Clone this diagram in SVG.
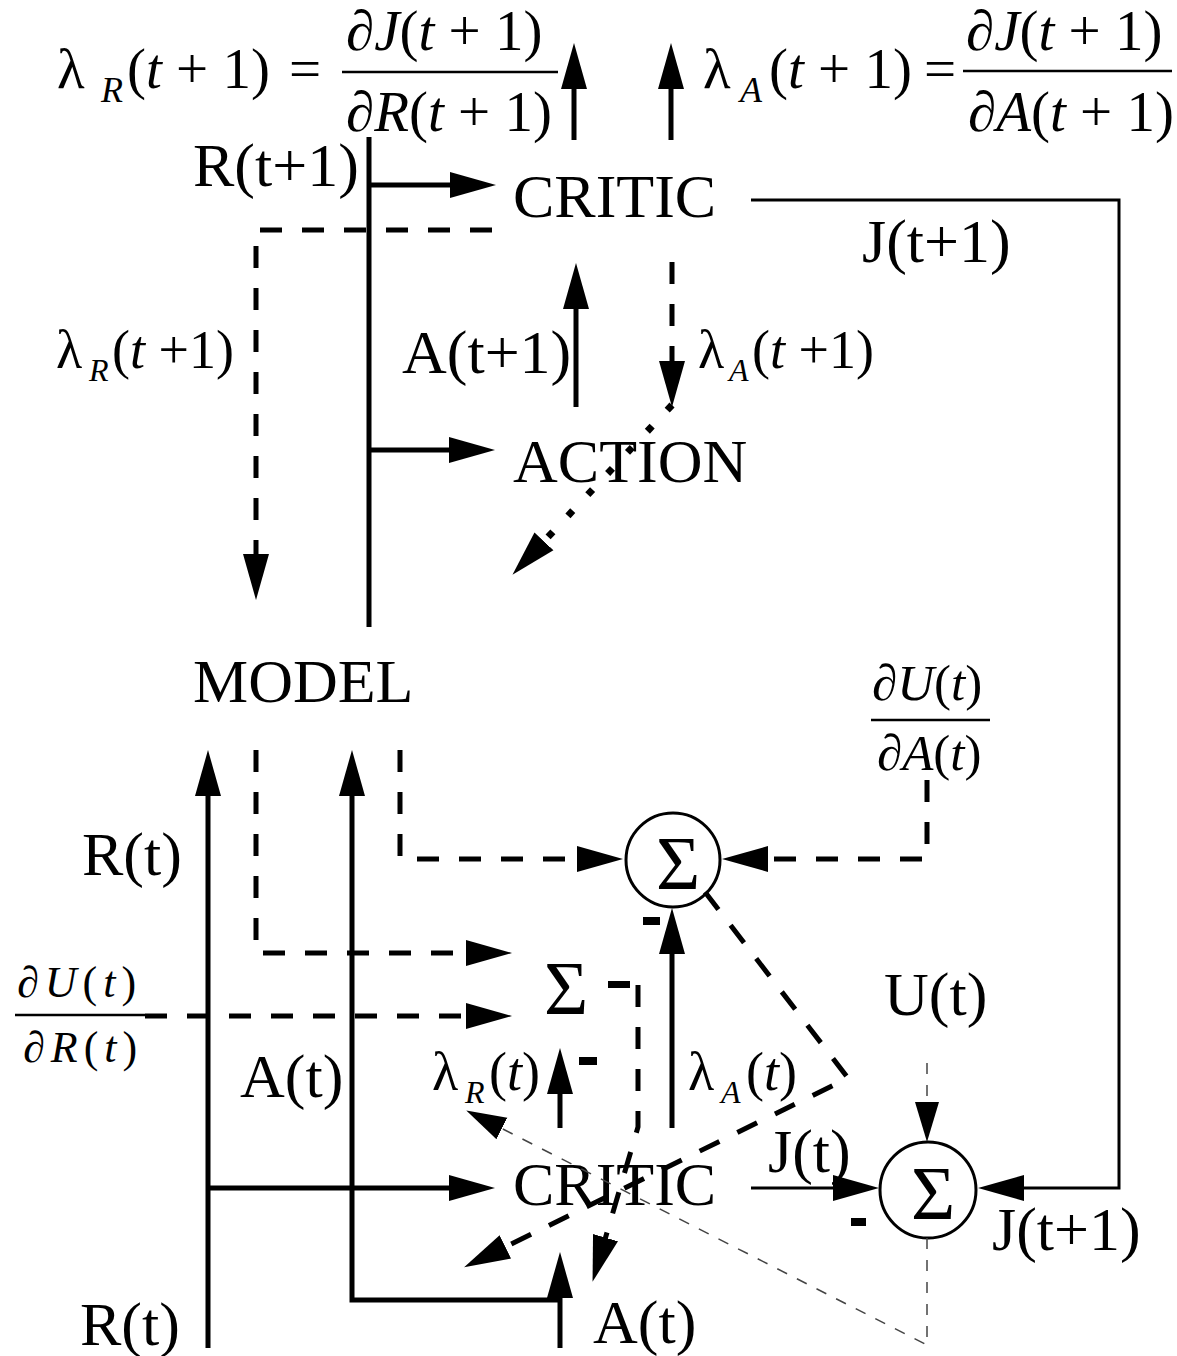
<svg xmlns="http://www.w3.org/2000/svg" width="1177" height="1356" viewBox="0 0 1177 1356">
<style>
text { font-family: "Liberation Serif", "Times New Roman", serif; fill: #000; }
.lbl { font-size: 62px; }
.m { font-size: 57px; }
.ms { font-size: 54px; }
.mf { font-size: 51px; }
.i { font-style: italic; }
.sub { font-size: 36px; font-style: italic; }
.subs { font-size: 32px; font-style: italic; }
.sig { font-size: 76px; text-anchor: middle; }
.solid { fill: none; stroke: #000; stroke-width: 5; }
.dash { fill: none; stroke: #000; stroke-width: 5; stroke-dasharray: 22 20; }
.dot { fill: none; stroke: #000; stroke-width: 7; stroke-dasharray: 7 22; }
.thin { fill: none; stroke: #444; stroke-width: 1.5; stroke-dasharray: 11 11; }
.fb { fill: none; stroke: #000; stroke-width: 3; }
.bar { stroke: #000; stroke-width: 2.5; }
.sum { fill: none; stroke: #000; stroke-width: 3; }
.minus { fill: #000; }
</style>
<defs>
<marker id="ah" markerUnits="userSpaceOnUse" markerWidth="48" markerHeight="28" refX="16" refY="14" orient="auto">
<path d="M0,1 L46,14 L0,27 z" fill="#000"/>
</marker>
<marker id="ahs" markerUnits="userSpaceOnUse" markerWidth="42" markerHeight="28" refX="10" refY="14" orient="auto">
<path d="M0,2 L40,14 L0,26 z" fill="#000"/>
</marker>
</defs>
<rect width="1177" height="1356" fill="#fff"/>

<g id="critic-top"><text class="lbl" x="513" y="217">CRITIC</text></g>
<g id="action"><text class="lbl" x="513" y="482">ACTION</text></g>
<g id="model"><text class="lbl" x="193" y="702">MODEL</text></g>
<g id="critic-bottom"><text class="lbl" x="513" y="1205">CRITIC</text></g>
<g id="sum-1"><circle class="sum" cx="673" cy="860" r="47"/><text class="sig" x="678" y="889">Σ</text></g>
<g id="sum-2"><text class="sig" x="566" y="1014">Σ</text></g>
<g id="sum-3"><circle class="sum" cx="928" cy="1190" r="48"/><text class="sig" x="933" y="1219">Σ</text></g>

<g id="labels">
<text class="m"><tspan x="57" y="88">λ</tspan><tspan class="sub" x="101" y="102">R</tspan><tspan x="127" y="88">(<tspan class="i">t</tspan> + 1)</tspan><tspan x="289" y="88">=</tspan></text>
<text class="m" x="346" y="50">∂<tspan class="i">J</tspan>(<tspan class="i">t</tspan> + 1)</text>
<line class="bar" x1="342" y1="72" x2="558" y2="72"/>
<text class="m" x="346" y="131">∂<tspan class="i">R</tspan>(<tspan class="i">t</tspan> + 1)</text>

<text class="m"><tspan x="703" y="88">λ</tspan><tspan class="sub" x="740" y="102">A</tspan><tspan x="769" y="88">(<tspan class="i">t</tspan> + 1)</tspan><tspan x="924" y="88">=</tspan></text>
<text class="m" x="966" y="50">∂<tspan class="i">J</tspan>(<tspan class="i">t</tspan> + 1)</text>
<line class="bar" x1="963" y1="71" x2="1172" y2="71"/>
<text class="m" x="968" y="131">∂<tspan class="i">A</tspan>(<tspan class="i">t</tspan> + 1)</text>

<text class="lbl" x="193" y="186">R(t+1)</text>
<text class="lbl" x="862" y="262">J(t+1)</text>
<text class="lbl" x="402" y="373">A(t+1)</text>

<text class="ms"><tspan x="56" y="368">λ</tspan><tspan class="subs" x="89" y="381">R</tspan><tspan x="112" y="368">(<tspan class="i">t</tspan> +1)</tspan></text>
<text class="ms"><tspan x="698" y="368">λ</tspan><tspan class="subs" x="729" y="381">A</tspan><tspan x="752" y="368">(<tspan class="i">t</tspan> +1)</tspan></text>

<text class="mf" x="872" y="700">∂<tspan class="i">U</tspan>(<tspan class="i">t</tspan>)</text>
<line class="bar" x1="871" y1="720" x2="990" y2="720"/>
<text class="mf" x="877" y="770">∂<tspan class="i">A</tspan>(<tspan class="i">t</tspan>)</text>

<text class="lbl" x="82" y="875">R(t)</text>

<text font-size="44" letter-spacing="6" x="17" y="997">∂<tspan class="i">U</tspan>(<tspan class="i">t</tspan>)</text>
<line class="bar" x1="15" y1="1015" x2="145" y2="1015"/>
<text font-size="44" letter-spacing="6" x="23" y="1062">∂<tspan class="i">R</tspan>(<tspan class="i">t</tspan>)</text>

<text class="lbl" x="240" y="1097">A(t)</text>
<text class="ms"><tspan x="432" y="1090">λ</tspan><tspan class="subs" x="465" y="1103">R</tspan><tspan x="489" y="1090">(<tspan class="i">t</tspan>)</tspan></text>
<text class="ms"><tspan x="688" y="1090">λ</tspan><tspan class="subs" x="721" y="1103">A</tspan><tspan x="746" y="1090">(<tspan class="i">t</tspan>)</tspan></text>
<text class="lbl" x="884" y="1015">U(t)</text>
<text class="lbl" x="768" y="1172">J(t)</text>
<text class="lbl" x="992" y="1250">J(t+1)</text>
<text class="lbl" x="80" y="1345">R(t)</text>
<text class="lbl" x="593" y="1343">A(t)</text>

<rect class="minus" x="643" y="917" width="17" height="8"/>
<rect class="minus" x="608" y="981" width="22" height="7"/>
<rect class="minus" x="579" y="1057" width="18" height="8"/>
<rect class="minus" x="851" y="1218" width="15" height="8"/>
</g>

<g id="connectors">
<path class="solid" d="M574,140 V73" marker-end="url(#ah)"/>
<path class="solid" d="M671,140 V73" marker-end="url(#ah)"/>
<path class="solid" d="M369,137 V627"/>
<path class="solid" d="M369,185 H466" marker-end="url(#ah)"/>
<path class="solid" d="M369,450 H465" marker-end="url(#ah)"/>
<path class="solid" d="M576,407 V293" marker-end="url(#ah)"/>
<path class="solid" d="M208,1348 V780" marker-end="url(#ah)"/>
<path class="solid" d="M560,1300 H352 V780" marker-end="url(#ah)"/>
<path class="solid" d="M560,1348 V1282" marker-end="url(#ah)"/>
<path class="solid" d="M208,1188 H465" marker-end="url(#ah)"/>
<path class="solid" d="M560,1128 V1078" marker-end="url(#ah)"/>
<path class="solid" d="M672,1128 V938" marker-end="url(#ah)"/>
<path class="fb" d="M751,1188 H849" marker-end="url(#ah)"/>
<path class="fb" d="M751,200 H1119 V1188 H1008" marker-end="url(#ah)"/>

<path class="dash" d="M492,230 H256 V570" marker-end="url(#ah)"/>
<path class="dash" d="M672,262 V377" marker-end="url(#ah)"/>
<path class="dash" d="M256,750 V953 H482" marker-end="url(#ah)"/>
<path class="dash" d="M145,1016 H482" marker-end="url(#ah)"/>
<path class="dash" d="M400,750 V859 H593" marker-end="url(#ah)"/>
<path class="dash" d="M927,780 V859 H752" marker-end="url(#ah)"/>
<path class="dash" d="M638,985 V1127 L601,1253" marker-end="url(#ah)"/>
<path class="dash" d="M705,892 L848,1078 L491,1254" marker-end="url(#ah)"/>
<path class="dot" d="M672,405 L533,553" marker-end="url(#ah)"/>

<path class="thin" d="M927,1063 V1112" marker-end="url(#ahs)"/>
<path class="thin" d="M927,1238 V1345 L493,1124" marker-end="url(#ahs)"/>
</g>
</svg>
